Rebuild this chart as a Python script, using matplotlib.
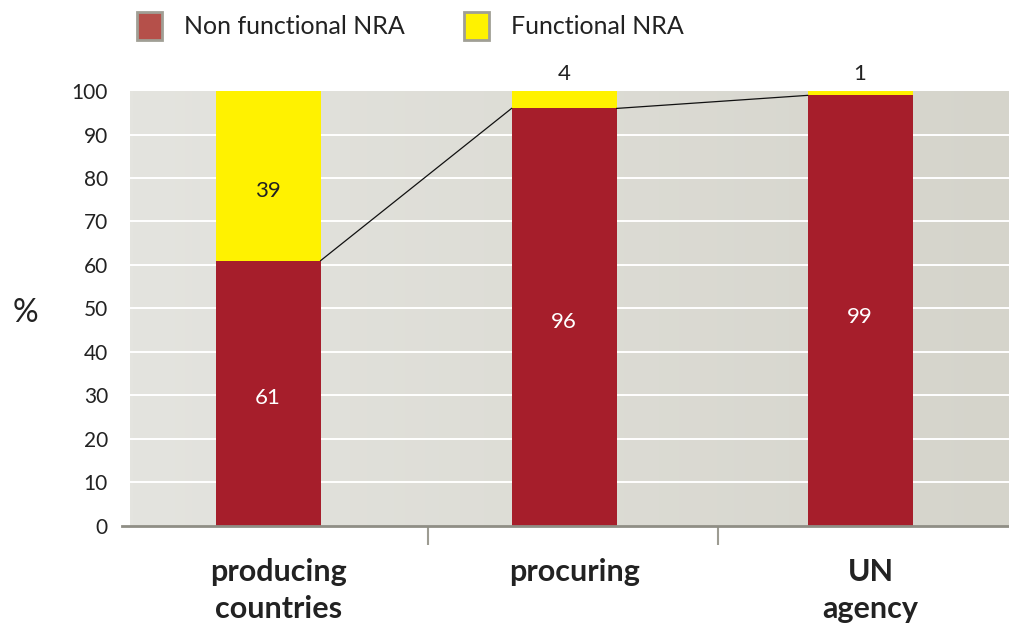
import numpy as np
import matplotlib.pyplot as plt
from matplotlib.patches import Patch
from matplotlib.colors import LinearSegmentedColormap

categories = ['producing\ncountries', 'procuring', 'UN\nagency']
non_functional = [61, 96, 99]
functional = [39, 4, 1]
yticks = [0, 10, 20, 30, 40, 50, 60, 70, 80, 90, 100]

red = '#a61e2b'
yellow = '#fff200'
plt.rcParams['font.family'] = ['Lato', 'DejaVu Sans']

fig = plt.figure(figsize=(10.09, 6.26), dpi=100)
ax = fig.add_axes([0.129, 0.160, 0.871, 0.6946])

x = np.arange(len(categories))
w = 0.355
ax.set_xlim(-0.466, 2.503)
ax.set_ylim(0, 100)

# grey gradient background, lighter on the left
grad = np.linspace(0, 1, 256).reshape(1, -1)
bg = LinearSegmentedColormap.from_list('bg', ['#e4e4df', '#d5d4cb'])
ax.imshow(grad, cmap=bg, aspect='auto', extent=[-0.466, 2.503, 0, 100], zorder=0)

for yv in yticks[1:-1]:
    ax.axhline(yv, color='white', lw=1.4, zorder=1)

ax.bar(x, non_functional, w, color=red, zorder=3)
ax.bar(x, functional, w, bottom=non_functional, color=yellow, zorder=3, clip_on=False)

# series lines between the tops of the red bars
for i in range(len(x) - 1):
    ax.plot([x[i] + w / 2, x[i + 1] - w / 2], [non_functional[i], non_functional[i + 1]],
            color='#111111', lw=0.9, zorder=4)

for i in range(len(x)):
    ax.text(x[i], min(non_functional[i] / 2 - 1.2, 48), str(non_functional[i]),
            color='white', ha='center', va='center', fontsize=16, zorder=5)
    if functional[i] > 10:
        ax.text(x[i], non_functional[i] + functional[i] / 2 - 3.5, str(functional[i]),
                color='#222222', ha='center', va='center', fontsize=16, zorder=5)
    else:
        ax.text(x[i], 104, str(functional[i]), color='#222222',
                ha='center', va='center', fontsize=16, zorder=5)

for s in ['top', 'right', 'left', 'bottom']:
    ax.spines[s].set_visible(False)
ax.plot([-0.009, 1], [0, 0], transform=ax.transAxes, color='#8f8e85', lw=2,
        clip_on=False, zorder=6)

ax.set_yticks(yticks)
ax.tick_params(axis='y', length=0, labelsize=15, pad=16, labelcolor='#222222')
ax.set_xticks([0.54, 1.52])
ax.set_xticklabels([])
ax.tick_params(axis='x', length=14, width=1.5, color='#9d9c92', direction='out')
for i, c in enumerate(categories):
    ax.text(x[i] + 0.035, -7.3, c, ha='center', va='top', fontsize=22, fontweight='bold',
            color='#222222', linespacing=1.4)

fig.text(0.013, 0.5, '%', fontsize=23, color='#222222', va='center')

handles = [Patch(facecolor='#b5504a', edgecolor='#a09f95', linewidth=2),
           Patch(facecolor=yellow, edgecolor='#a09f95', linewidth=2)]
fig.legend(handles, ['Non functional NRA', 'Functional NRA'], loc='upper left',
           bbox_to_anchor=(0.113, 1.016), ncol=2, frameon=False, fontsize=18,
           handlelength=1.0, handleheight=1.3, handletextpad=0.9, columnspacing=2.35,
           labelcolor='#222222')

fig.savefig('out.png', dpi=100)
